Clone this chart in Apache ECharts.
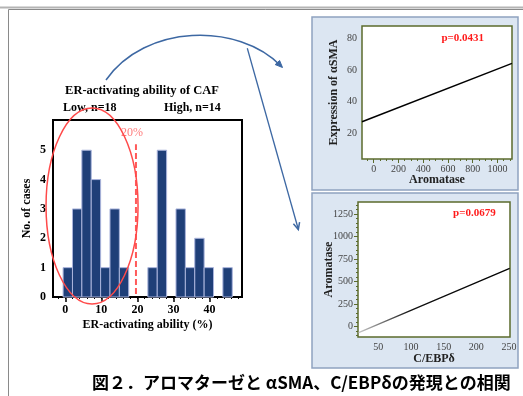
<!DOCTYPE html>
<html>
<head>
<meta charset="utf-8">
<script src="https://cdn.jsdelivr.net/npm/echarts@6/dist/echarts.min.js"></script>
<style>
html,body{margin:0;padding:0;background:#fff;}
#c{width:523px;height:396px;}
</style>
</head>
<body>
<div id="c"></div>
<script>
// ---- Histogram (ER-activating ability of CAF) ----
const histBinEdges = [-0.6, 2.0, 4.6, 7.2, 9.8, 12.4, 15.0, 17.6, 20.3, 22.9, 25.5, 28.1, 30.7, 33.3, 35.9, 38.5, 41.1, 43.7, 46.3];
const histCounts   = [1, 3, 5, 4, 1, 3, 1, 0, 0, 1, 5, 0, 3, 1, 2, 1, 0, 1];
const histXTicks   = [0, 10, 20, 30, 40];
const histYTicks   = [0, 1, 2, 3, 4, 5];
const cutoffX = [19.6, 19.6];
const cutoffY = [0.1, 5.2];

// ---- Top scatter: Aromatase vs alphaSMA regression line ----
const topAromatase = [-95, 1118];
const topSMA       = [27.3, 64.2];
const topXTicks    = [0, 200, 400, 600, 800, 1000];
const topYTicks    = [20, 40, 60, 80];

// ---- Bottom scatter: C/EBPdelta vs Aromatase regression line ----
const botCEBP      = [20, 251];
const botAromatase = [-66, 647];
const botXTicks    = [50, 100, 150, 200, 250];
const botYTicks    = [0, 250, 500, 750, 1000, 1250];

function range(a, b, s) { const r = []; for (let v = a; v <= b + 1e-9; v += s) r.push(+v.toFixed(6)); return r; }
const plain = v => String(v);

const serif = 'Liberation Serif';
const olive = '#5b6b2c';

const chart = echarts.init(document.getElementById('c'), null, {renderer: 'canvas'});

function majorX(grid, min, max, ticks, name, gap, opts) {
  return Object.assign({
    gridIndex: grid, type: 'value', min: min, max: max, position: 'bottom',
    splitLine: {show: false},
    axisLine: {show: false},
    axisTick: {show: true, customValues: ticks, length: 4, lineStyle: {color: olive, width: 1}},
    axisLabel: {customValues: ticks, formatter: plain, fontFamily: serif, fontSize: 10, color: '#444', margin: 5},
    name: name, nameLocation: 'middle', nameGap: gap, nameMoveOverlap: false,
    nameTextStyle: {fontFamily: serif, fontWeight: 'bold', fontSize: 12, color: '#222'}
  }, opts || {});
}
function minorX(grid, min, max, ticks, color) {
  return {gridIndex: grid, type: 'value', min: min, max: max, position: 'bottom',
    splitLine: {show: false}, axisLine: {show: false}, axisLabel: {show: false},
    axisTick: {show: true, customValues: ticks, length: 2, lineStyle: {color: color, width: 1}}};
}
function majorY(grid, min, max, ticks, name, gap, opts) {
  return Object.assign({
    gridIndex: grid, type: 'value', min: min, max: max, position: 'left',
    splitLine: {show: false},
    axisLine: {show: false},
    axisTick: {show: true, customValues: ticks, length: 4, lineStyle: {color: olive, width: 1}},
    axisLabel: {customValues: ticks, formatter: plain, fontFamily: serif, fontSize: 10, color: '#444', margin: 5},
    name: name, nameLocation: 'middle', nameGap: gap, nameRotate: 90, nameMoveOverlap: false,
    nameTextStyle: {fontFamily: serif, fontWeight: 'bold', fontSize: 12, color: '#222'}
  }, opts || {});
}
function minorY(grid, min, max, ticks, color) {
  return {gridIndex: grid, type: 'value', min: min, max: max, position: 'left',
    splitLine: {show: false}, axisLine: {show: false}, axisLabel: {show: false},
    axisTick: {show: true, customValues: ticks, length: 2, lineStyle: {color: color, width: 1}}};
}

const histData = histCounts.map((c, i) => [histBinEdges[i], histBinEdges[i + 1], c]).filter(d => d[2] > 0);

const boldBlackLabel = {fontFamily: serif, fontSize: 12, fontWeight: 'bold', color: '#000'};

chart.setOption({
  animation: false,
  backgroundColor: '#fff',
  grid: [
    {left: 53, top: 120, width: 189, height: 177, show: true, backgroundColor: '#fff', borderColor: '#000', borderWidth: 2, z: 1},
    {left: 362, top: 26, width: 150, height: 133, show: true, backgroundColor: '#fff', borderColor: olive, borderWidth: 1.5, z: 1},
    {left: 358, top: 202, width: 152, height: 135, show: true, backgroundColor: '#fff', borderColor: olive, borderWidth: 1.5, z: 1}
  ],
  xAxis: [
    majorX(0, -3.4, 49, histXTicks, 'ER-activating ability (%)', 22, {
      axisTick: {show: true, customValues: histXTicks, length: 5, lineStyle: {color: '#000', width: 1.5}},
      axisLabel: Object.assign({customValues: histXTicks, margin: 7}, boldBlackLabel),
      nameTextStyle: boldBlackLabel
    }),
    minorX(0, -3.4, 49, range(-2, 48, 2), '#000'),
    majorX(1, -95, 1118, topXTicks, 'Aromatase', 15),
    minorX(1, -95, 1118, range(-50, 1100, 50), olive),
    majorX(2, 19, 251.5, botXTicks, 'C/EBPδ', 16),
    minorX(2, 19, 251.5, range(20, 250, 10), olive)
  ],
  yAxis: [
    majorY(0, 0, 6.03, histYTicks, 'No. of cases', 20, {
      axisTick: {show: true, customValues: histYTicks, length: 4, lineStyle: {color: '#000', width: 1.5}},
      axisLabel: Object.assign({customValues: histYTicks, margin: 7}, boldBlackLabel),
      nameTextStyle: boldBlackLabel
    }),
    majorY(1, 3.8, 87.8, topYTicks, 'Expression of αSMA', 22),
    minorY(1, 3.8, 87.8, range(6, 86, 2), olive),
    majorY(2, -114, 1383, botYTicks, 'Aromatase', 23),
    minorY(2, -114, 1383, range(-100, 1350, 50), olive)
  ],
  series: [
    {
      type: 'custom', xAxisIndex: 0, yAxisIndex: 0, z: 3,
      encode: {x: [0, 1], y: 2},
      data: histData,
      renderItem: function (params, api) {
        const p0 = api.coord([api.value(0), api.value(2)]);
        const p1 = api.coord([api.value(1), 0]);
        return {type: 'rect', shape: {x: p0[0], y: p0[1], width: p1[0] - p0[0], height: p1[1] - p0[1]},
          style: {fill: '#1f3f78', stroke: '#aab4dc', lineWidth: 1}};
      }
    },
    {
      type: 'line', xAxisIndex: 0, yAxisIndex: 0, z: 4, symbol: 'none',
      data: cutoffX.map((x, i) => [x, cutoffY[i]]),
      lineStyle: {color: '#ff5a5a', width: 2, type: [6, 3]}
    },
    {
      type: 'line', xAxisIndex: 2, yAxisIndex: 1, z: 4, symbol: 'none',
      data: topAromatase.map((x, i) => [x, topSMA[i]]),
      lineStyle: {color: '#000', width: 1.5}
    },
    {
      type: 'line', xAxisIndex: 4, yAxisIndex: 3, z: 4, symbol: 'none',
      data: botCEBP.map((x, i) => [x, botAromatase[i]]),
      lineStyle: {width: 1.3, color: new echarts.graphic.LinearGradient(0, 0, 1, 0, [
        {offset: 0, color: '#d0d0d0'}, {offset: 0.35, color: '#111'}, {offset: 1, color: '#000'}])}
    }
  ]
});

// annotations positioned through the axes
const p20 = chart.convertToPixel({xAxisIndex: 0, yAxisIndex: 0}, [19.6, 5.6]);
const eC = chart.convertToPixel({xAxisIndex: 0, yAxisIndex: 0}, [7.7, 3.1]);
const pTop = chart.convertToPixel({xAxisIndex: 2, yAxisIndex: 1}, [720, 80]);
const pBot = chart.convertToPixel({xAxisIndex: 4, yAxisIndex: 3}, [197, 1255]);

const arrowColor = '#3d68a3';

chart.setOption({
  graphic: [
    // page frame
    {type: 'line', z: -10, shape: {x1: 0, y1: 7.5, x2: 523, y2: 7.5}, style: {stroke: '#b4b4b4', lineWidth: 2}},
    {type: 'polyline', z: -10, shape: {points: [[8.5, 396], [8.5, 9.5], [523, 9.5]]}, style: {stroke: '#8a8a8a', lineWidth: 1, fill: null}},
    // panels
    {type: 'rect', z: -5, shape: {x: 312, y: 17, width: 206, height: 173}, style: {fill: '#dce6f2', stroke: '#8fa2c0', lineWidth: 1.5}},
    {type: 'rect', z: -5, shape: {x: 312, y: 193, width: 206, height: 175}, style: {fill: '#dce6f2', stroke: '#8fa2c0', lineWidth: 1.5}},
    // histogram titles
    {type: 'text', z: 10, style: {x: 142, y: 91, text: 'ER-activating ability of CAF', align: 'center', verticalAlign: 'middle', font: 'bold 12.5px "Liberation Serif"', fill: '#000'}},
    {type: 'text', z: 10, style: {x: 63, y: 108, text: 'Low, n=18', align: 'left', verticalAlign: 'middle', font: 'bold 12px "Liberation Serif"', fill: '#000'}},
    {type: 'text', z: 10, style: {x: 164, y: 108, text: 'High, n=14', align: 'left', verticalAlign: 'middle', font: 'bold 12px "Liberation Serif"', fill: '#000'}},
    {type: 'text', z: 10, style: {x: p20[0] - 4, y: p20[1], text: '20%', align: 'center', verticalAlign: 'middle', font: '12px "Liberation Serif"', fill: '#ff7b7b'}},
    // red ellipse
    {type: 'ellipse', z: 10, shape: {cx: eC[0] - 1, cy: eC[1], rx: 46, ry: 98}, style: {fill: null, stroke: '#ff4a4a', lineWidth: 1.5}},
    // p values
    {type: 'text', z: 10, style: {x: pTop[0], y: pTop[1], text: 'p=0.0431', align: 'center', verticalAlign: 'middle', font: 'bold 11px "Liberation Serif"', fill: '#ff1a1a'}},
    {type: 'text', z: 10, style: {x: pBot[0], y: pBot[1], text: 'p=0.0679', align: 'center', verticalAlign: 'middle', font: 'bold 11px "Liberation Serif"', fill: '#ff1a1a'}},
    // curved arrow
    {type: 'bezierCurve', z: 10, shape: {x1: 106, y1: 80, cpx1: 145, cpy1: 24, cpx2: 238, cpy2: 22, x2: 281, y2: 66}, style: {stroke: arrowColor, lineWidth: 1.5, fill: null}},
    {type: 'polygon', z: 10, shape: {points: [[282.5, 67.5], [279.6, 60.5], [275.2, 64.6]]}, style: {fill: arrowColor, stroke: arrowColor, lineWidth: 1}},
    // straight arrow
    {type: 'line', z: 10, shape: {x1: 247.3, y1: 48.3, x2: 298.3, y2: 229.3}, style: {stroke: arrowColor, lineWidth: 1.3}},
    {type: 'polyline', z: 10, shape: {points: [[293.4, 223.8], [298.3, 229.5], [299.6, 222.2]]}, style: {stroke: arrowColor, lineWidth: 1.5, fill: null}},
    // caption
    {type: 'text', z: 10, style: {x: 92, y: 383, text: '図２．アロマターゼと αSMA、C/EBPδの発現との相関', align: 'left', verticalAlign: 'middle', font: 'bold 17px "Noto Sans CJK JP"', fill: '#000'}}
  ]
});
</script>
</body>
</html>
